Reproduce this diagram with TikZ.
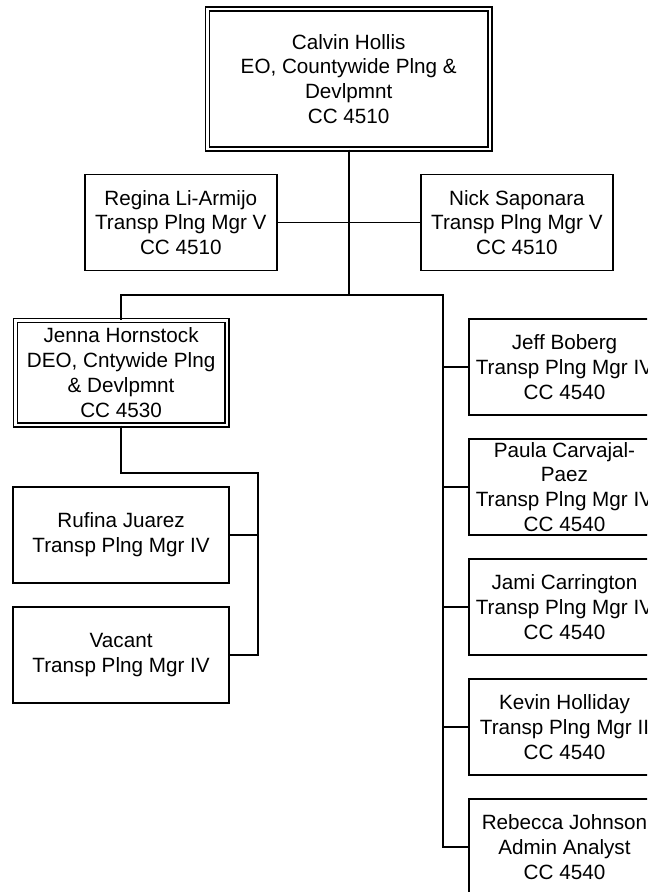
\documentclass[tikz,border=0pt]{standalone}
\usepackage{fontspec}
\setmainfont{Liberation Sans}
\usepackage{tikz}
\tikzset{
  posbox/.style={
    draw, rectangle, line width=1.4pt,
    minimum width=143.7pt, minimum height=72pt,
    inner sep=0pt, align=center,
    font=\fontsize{15.5pt}{18.6pt}\selectfont
  },
  headbox/.style={
    posbox, double, line width=1pt, double distance=2pt
  },
  wire/.style={draw, line width=1.4pt},
}

\begin{document}
\begin{tikzpicture}[x=0.75pt, y=-0.75pt]
  \fill[white] (0,0) rectangle (647,892);
  \useasboundingbox (0,0) rectangle (647,892);
  \clip (0,0) rectangle (647,892);

  \node[headbox, minimum width=212pt, minimum height=104.9pt]
                     (hollis)    at (348.7,78.9) {Calvin Hollis\\EO, Countywide Plng \&\\Devlpmnt\\CC 4510};
  \node[posbox]      (liarmijo)  at (180.8,222.5) {Regina Li-Armijo\\Transp Plng Mgr V\\CC 4510};
  \node[posbox]      (saponara)  at (516.9,222.5) {Nick Saponara\\Transp Plng Mgr V\\CC 4510};

  \node[headbox, minimum width=158.8pt, minimum height=78.4pt]
                     (hornstock) at (121.1,372.8) {Jenna Hornstock\\DEO, Cntywide Plng\\\& Devlpmnt\\CC 4530};
  \node[posbox, minimum width=161.9pt]
                     (juarez)    at (121.1,534.7) {Rufina Juarez\\Transp Plng Mgr IV};
  \node[posbox, minimum width=161.9pt]
                     (vacant)    at (121.1,654.7) {Vacant\\Transp Plng Mgr IV};

  \node[posbox]      (boberg)     at (564.5,367) {Jeff Boberg\\Transp Plng Mgr IV\\CC 4540};
  \node[posbox]      (carvajal)   at (564.5,487) {Paula Carvajal-\\Paez\\Transp Plng Mgr IV\\CC 4540};
  \node[posbox]      (carrington) at (564.5,607) {Jami Carrington\\Transp Plng Mgr IV\\CC 4540};
  \node[posbox]      (holliday)   at (564.5,727) {Kevin Holliday\\Transp Plng Mgr II\\CC 4540};
  \node[posbox]      (johnson)    at (564.5,847) {Rebecca Johnson\\Admin Analyst\\CC 4540};

  \coordinate (hub)    at (348.7,294.7);
  \coordinate (rtrunk) at (442.7,294.7);
  \coordinate (lbend)  at (257.9,472.7);

  \draw[wire] (hollis) -- (hub);
  \draw[wire] (liarmijo) -- (saponara);
  \draw[wire] (hornstock) |- (hub) -- (rtrunk) |- (johnson);
  \draw[wire] (boberg) -- (boberg -| rtrunk);
  \draw[wire] (carvajal) -- (carvajal -| rtrunk);
  \draw[wire] (carrington) -- (carrington -| rtrunk);
  \draw[wire] (holliday) -- (holliday -| rtrunk);

  \draw[wire] (hornstock) |- (lbend) |- (vacant);
  \draw[wire] (juarez) -- (juarez -| lbend);
\end{tikzpicture}
\end{document}
